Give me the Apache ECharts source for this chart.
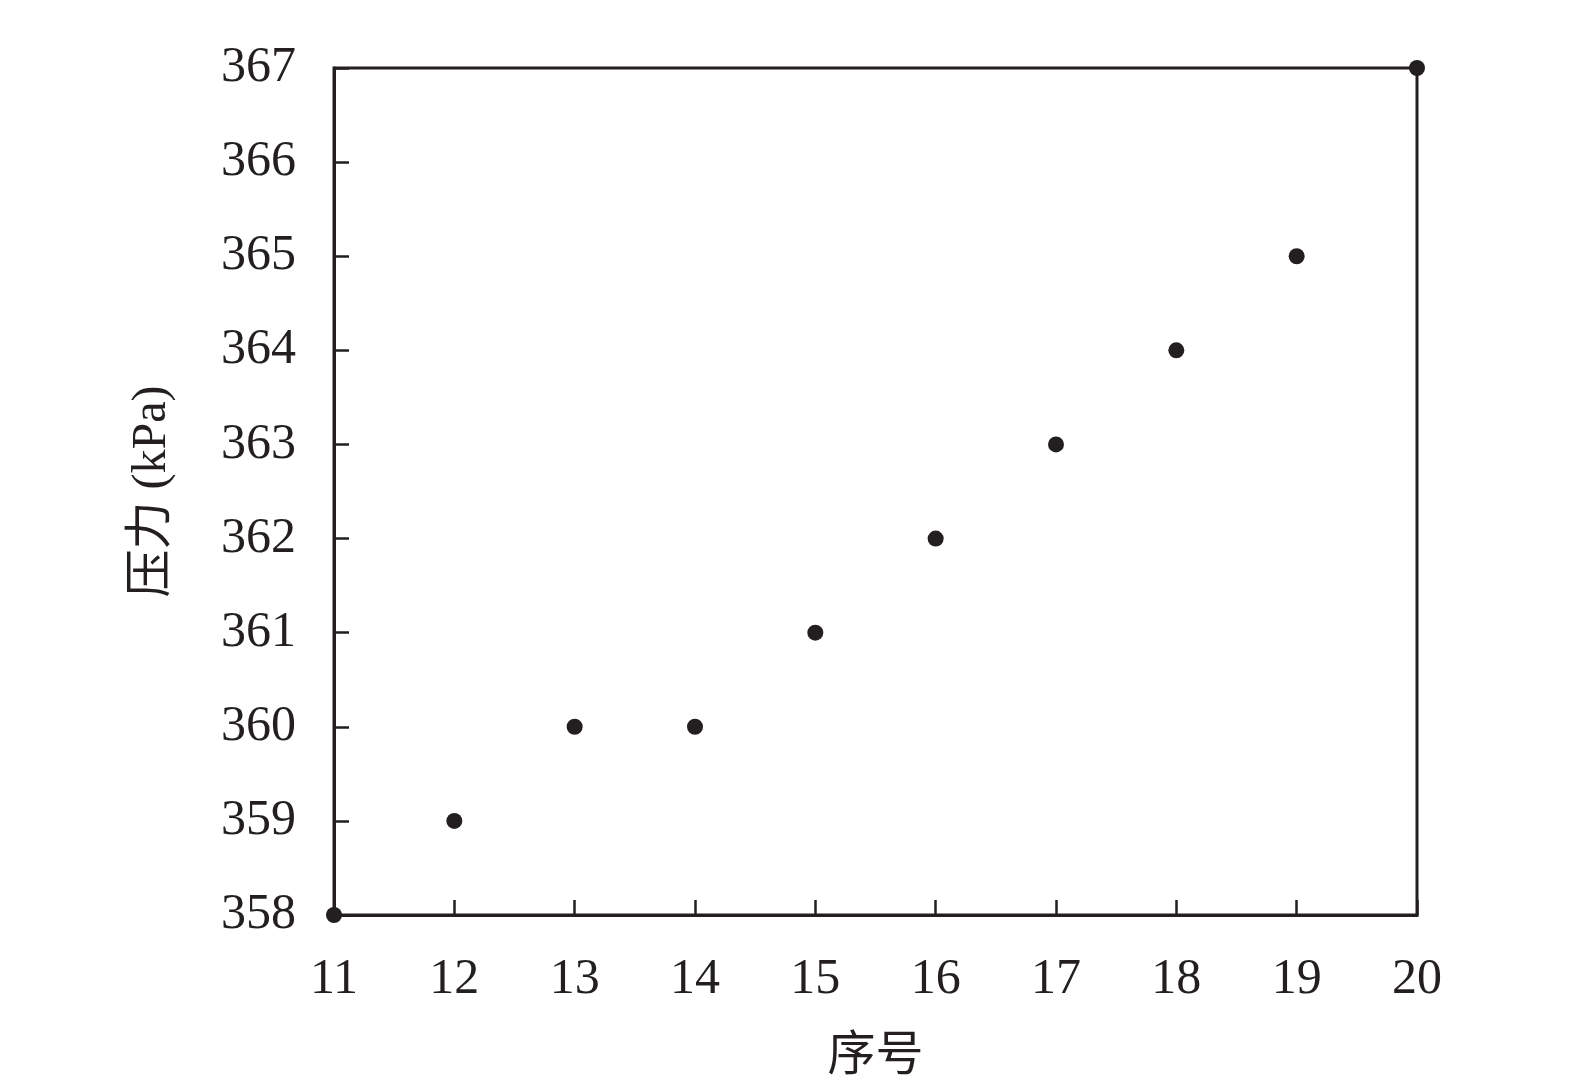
<!DOCTYPE html>
<html>
<head>
<meta charset="utf-8">
<script src="https://cdn.jsdelivr.net/npm/echarts@6/dist/echarts.min.js"></script>
<style>html,body{margin:0;padding:0;background:#fff;}#c{width:1575px;height:1083px;}</style>
</head>
<body>
<div id="c"></div>
<script>
const xValues = [11, 12, 13, 14, 15, 16, 17, 18, 19, 20];
const pressure = [358, 359, 360, 360, 361, 362, 363, 364, 365, 367];
const xName = '序号';
const yName = '压力 (kPa)';

const ink = '#231f20';
const font = 'Liberation Serif, Times New Roman, Noto Sans CJK SC, serif';
const chart = echarts.init(document.getElementById('c'));
chart.setOption({
  animation: false,
  backgroundColor: '#fff',
  grid: { left: 334, right: 158, top: 68, bottom: 168, outerBoundsMode: 'none', containLabel: false, show: true, borderColor: ink, borderWidth: 3, backgroundColor: 'transparent' },
  xAxis: {
    type: 'value', min: 11, max: 20, interval: 1,
    name: xName, nameLocation: 'middle', nameGap: 118,
    nameTextStyle: { fontFamily: font, fontSize: 48, color: ink },
    axisLine: { show: true, lineStyle: { color: ink, width: 3 } },
    axisTick: { show: true, inside: true, length: 15, lineStyle: { color: ink, width: 2.5 } },
    axisLabel: { fontFamily: font, fontSize: 50, color: ink, margin: 40 },
    splitLine: { show: false }
  },
  yAxis: {
    type: 'value', min: 358, max: 367, interval: 1,
    name: yName, nameLocation: 'middle', nameGap: 158, nameRotate: 90,
    nameTextStyle: { fontFamily: font, fontSize: 48, color: ink },
    axisLine: { show: true, lineStyle: { color: ink, width: 3 } },
    axisTick: { show: true, inside: true, length: 15, lineStyle: { color: ink, width: 2.5 } },
    axisLabel: { fontFamily: font, fontSize: 50, color: ink, margin: 38 },
    splitLine: { show: false }
  },
  series: [{
    type: 'scatter',
    clip: false,
    symbol: 'circle',
    symbolSize: 16,
    itemStyle: { color: ink, opacity: 1 },
    data: xValues.map((x, i) => [x, pressure[i]])
  }]
});
</script>
</body>
</html>
